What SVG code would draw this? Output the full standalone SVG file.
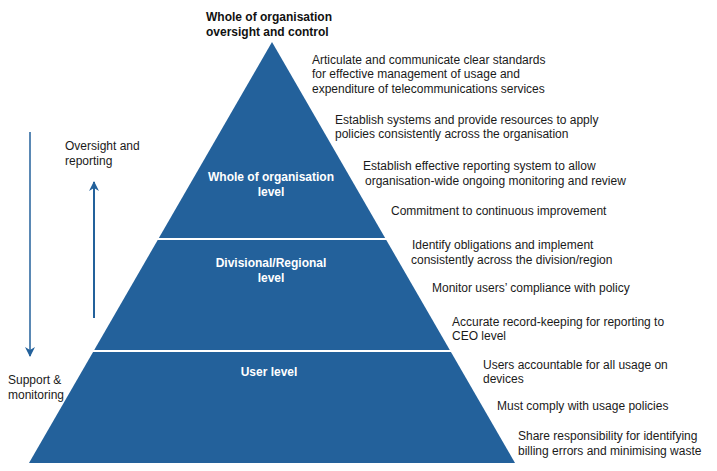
<svg xmlns="http://www.w3.org/2000/svg" width="717" height="471" viewBox="0 0 717 471">
<style>
text{font-family:"Liberation Sans",Arial,sans-serif;}
.t{font-size:12px;fill:#1a1a1a;}
.h{font-size:12px;font-weight:bold;fill:#111;}
.w{font-size:12px;font-weight:bold;fill:#fff;text-anchor:middle;}
.div{stroke:#fff;stroke-width:2;}
.arr{stroke:#23619B;fill:none;}
</style>
<defs>
<marker id="ah" viewBox="0 0 10 10" refX="9" refY="5" markerWidth="10" markerHeight="10" markerUnits="userSpaceOnUse" orient="auto">
<path d="M0,0 L10,5 L0,10 L3,5 Z" fill="#23619B"/>
</marker>
</defs>
<rect width="717" height="471" fill="#fff"/>
<g id="pyramid">
<polygon points="272,42 29,463 515,463" fill="#23619B"/>
<line class="div" x1="157" y1="239" x2="387" y2="239"/>
<line class="div" x1="93" y1="351" x2="451" y2="351"/>
</g>
<g id="top-label">
<text class="h" x="206" y="21">Whole of organisation</text>
<text class="h" x="206" y="36">oversight and control</text>
</g>
<g id="level-whole">
<text class="w" x="271" y="181">Whole of organisation</text>
<text class="w" x="271" y="196">level</text>
</g>
<g id="level-divisional">
<text class="w" x="271" y="267">Divisional/Regional</text>
<text class="w" x="271" y="282">level</text>
</g>
<g id="level-user">
<text class="w" x="269" y="376">User level</text>
</g>
<g id="connectors">
<line class="arr" stroke-width="1.5" x1="30" y1="132" x2="30" y2="356" marker-end="url(#ah)"/>
<line class="arr" stroke-width="2" x1="94" y1="318" x2="94" y2="182" marker-end="url(#ah)"/>
</g>
<g id="side-labels">
<text class="t" x="65" y="150">Oversight and</text>
<text class="t" x="65" y="165">reporting</text>
<text class="t" x="8" y="384">Support &amp;</text>
<text class="t" x="8" y="399">monitoring</text>
</g>
<g id="notes">
<text class="t" x="312" y="64">Articulate and communicate clear standards</text>
<text class="t" x="312" y="78">for effective management of usage and</text>
<text class="t" x="312" y="93">expenditure of telecommunications services</text>
<text class="t" x="335" y="124">Establish systems and provide resources to apply</text>
<text class="t" x="335" y="138">policies consistently across the organisation</text>
<text class="t" x="363" y="170">Establish effective reporting system to allow</text>
<text class="t" x="365" y="185">organisation-wide ongoing monitoring and review</text>
<text class="t" x="391" y="215">Commitment to continuous improvement</text>
<text class="t" x="412" y="249">Identify obligations and implement</text>
<text class="t" x="411" y="264">consistently across the division/region</text>
<text class="t" x="432" y="292">Monitor users’ compliance with policy</text>
<text class="t" x="452" y="326">Accurate record-keeping for reporting to</text>
<text class="t" x="452" y="340">CEO level</text>
<text class="t" x="483" y="369">Users accountable for all usage on</text>
<text class="t" x="483" y="383">devices</text>
<text class="t" x="497" y="410">Must comply with usage policies</text>
<text class="t" x="518" y="440">Share responsibility for identifying</text>
<text class="t" x="518" y="455">billing errors and minimising waste</text>
</g>
</svg>
